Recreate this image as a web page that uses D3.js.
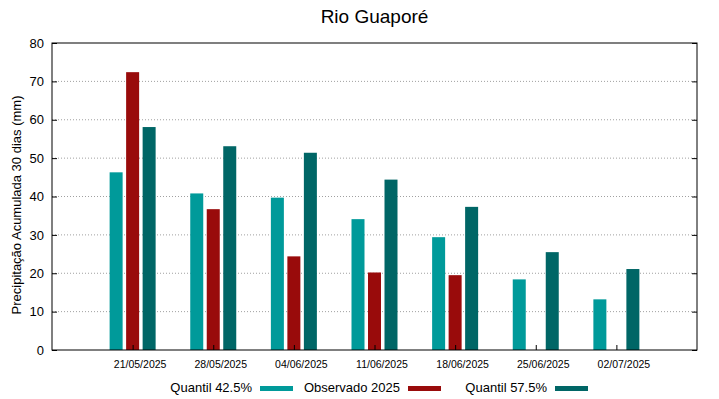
<!DOCTYPE html>
<html>
<head>
<meta charset="utf-8">
<script src="https://cdn.jsdelivr.net/npm/d3@7"></script>
<style>
body { margin: 0; background: #fff; }
text { font-family: "Liberation Sans", Arial, sans-serif; }
</style>
</head>
<body>
<script>
// dati
var datas = ["21/05/2025", "28/05/2025", "04/06/2025", "11/06/2025", "18/06/2025", "25/06/2025", "02/07/2025"];
var q425 = [46.3, 40.8, 39.7, 34.1, 29.4, 18.4, 13.2];
var obs2025 = [72.4, 36.7, 24.4, 20.2, 19.5, null, null];
var q575 = [58.1, 53.1, 51.4, 44.4, 37.3, 25.5, 21.1];
var yTicks = [0, 10, 20, 30, 40, 50, 60, 70, 80];

var seriesNames = ["Quantil 42.5%", "Observado 2025", "Quantil 57.5%"];
var colour = ["#009a9a", "#990b0b", "#006666"];

var totalWidth = 719, totalHeight = 399;
var margin = {top: 43, right: 22, bottom: 49, left: 52};
var width = totalWidth - margin.left - margin.right;
var height = totalHeight - margin.top - margin.bottom;

var svg = d3.select("body").append("svg")
    .attr("width", totalWidth)
    .attr("height", totalHeight);

var g = svg.append("g")
    .attr("transform", "translate(" + margin.left + "," + margin.top + ")");

// scale: posizioni di categoria da -1 a 7 come in gnuplot
var x = d3.scaleLinear().domain([-1, datas.length]).range([0, width]);
var y = d3.scaleLinear().domain([0, 80]).range([height, 0]);

var barW = 13, step = 16.5;

// griglia tratteggiata
g.selectAll(".grid").data(yTicks.filter(function(d){ return d > 0 && d < 80; }))
    .enter().append("line")
    .attr("class", "grid")
    .attr("x1", 0).attr("x2", width)
    .attr("y1", function(d){ return y(d); })
    .attr("y2", function(d){ return y(d); })
    .attr("stroke", "#a0a0a0")
    .attr("stroke-width", 1)
    .attr("stroke-dasharray", "1,2");

// barre
var series = [q425, obs2025, q575];
series.forEach(function(vals, s) {
    g.selectAll(".bar" + s).data(vals.map(function(v, i){ return {v: v, i: i}; }).filter(function(d){ return d.v != null; }))
        .enter().append("rect")
        .attr("class", "bar" + s)
        .attr("x", function(d){ return x(d.i) + (s - 1) * step - barW / 2; })
        .attr("y", function(d){ return y(d.v); })
        .attr("width", barW)
        .attr("height", function(d){ return y(0) - y(d.v); })
        .attr("fill", colour[s]);
});

// assi
var yAxis = d3.axisLeft(y).tickValues(yTicks).tickSize(-5).tickPadding(8);
g.append("g").attr("class", "y axis").call(yAxis)
    .call(function(a){ a.select(".domain").remove(); })
    .selectAll("text").attr("font-size", "13px").attr("fill", "#000")
    .style("font-family", "'Liberation Sans', Arial, sans-serif");
g.append("g").attr("transform", "translate(" + width + ",0)")
    .call(d3.axisRight(y).tickValues(yTicks).tickSize(-5).tickFormat(""))
    .call(function(a){ a.select(".domain").remove(); });

var xAxis = d3.axisBottom(x).tickValues(d3.range(datas.length))
    .tickFormat(function(i){ return datas[i]; }).tickSize(-5).tickPadding(11);
g.append("g").attr("class", "x axis")
    .attr("transform", "translate(0," + height + ")")
    .call(xAxis)
    .call(function(a){ a.select(".domain").remove(); })
    .selectAll("text").attr("font-size", "10.5px").attr("fill", "#000")
    .attr("dx", 7)
    .style("font-family", "'Liberation Sans', Arial, sans-serif");

g.selectAll(".tick line").attr("stroke", "#000");

// bordo
g.append("rect")
    .attr("x", 0).attr("y", 0)
    .attr("width", width).attr("height", height)
    .attr("fill", "none")
    .attr("stroke", "#000")
    .attr("stroke-width", 1);

// titolo
svg.append("text")
    .attr("x", margin.left + width / 2)
    .attr("y", 23)
    .attr("font-size", "19px")
    .style("text-anchor", "middle")
    .text("Rio Guaporé");

// label asse y
svg.append("text")
    .attr("transform", "translate(21,205) rotate(-90)")
    .attr("font-size", "13px")
    .style("text-anchor", "middle")
    .text("Precipitação Acumulada 30 dias (mm)");

// legenda
var legendX = [260, 408, 555];
seriesNames.forEach(function(name, s) {
    svg.append("text")
        .attr("x", legendX[s] - 8)
        .attr("y", 392)
        .attr("font-size", "13px")
        .style("text-anchor", "end")
        .text(name);
    svg.append("rect")
        .attr("x", legendX[s])
        .attr("y", 386)
        .attr("width", 33)
        .attr("height", 5)
        .attr("fill", colour[s]);
});
</script>
</body>
</html>
